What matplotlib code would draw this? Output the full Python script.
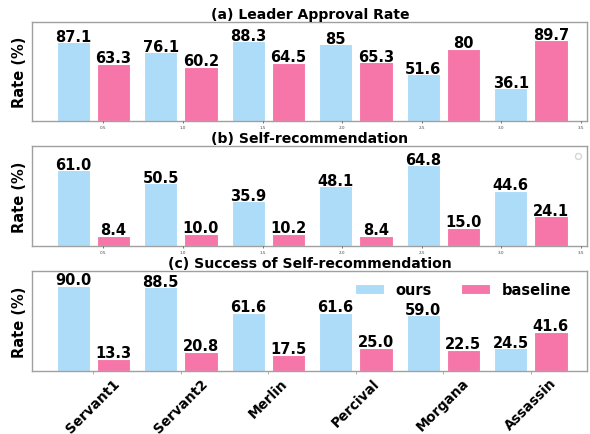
import numpy as np
import matplotlib
matplotlib.use('Agg')
import matplotlib.pyplot as plt

roles = ['Servant1', 'Servant2', 'Merlin', 'Percival', 'Morgana', 'Assassin']

approval_ours = [87.1, 76.1, 88.3, 85, 51.6, 36.1]
approval_base = [63.3, 60.2, 64.5, 65.3, 80, 89.7]
approval_ours_txt = ['87.1', '76.1', '88.3', '85', '51.6', '36.1']
approval_base_txt = ['63.3', '60.2', '64.5', '65.3', '80', '89.7']

selfrec_ours = [61.0, 50.5, 35.9, 48.1, 64.8, 44.6]
selfrec_base = [8.4, 10.0, 10.2, 8.4, 15.0, 24.1]

success_ours = [90.0, 88.5, 61.6, 61.6, 59.0, 24.5]
success_base = [13.3, 20.8, 17.5, 25.0, 22.5, 41.6]

titles = ['(a) Leader Approval Rate', '(b) Self-recommendation',
          '(c) Success of Self-recommendation']
ylims = [110, 80, 105]
tiny_ticks = [0.5, 1.0, 1.5, 2.0, 2.5, 3.0, 3.5]

c_ours = '#ADDCF9'
c_base = '#F776A9'

fig = plt.figure(figsize=(5.9, 4.35), dpi=100)
boxes = [[0.0547, 0.7195, 0.941, 0.2283],
         [0.0547, 0.4315, 0.941, 0.2299],
         [0.0547, 0.1441, 0.941, 0.2299]]

panels = [(approval_ours, approval_base, approval_ours_txt, approval_base_txt),
          (selfrec_ours, selfrec_base, None, None),
          (success_ours, success_base, None, None)]

x = np.arange(len(roles))
w = 0.38
off = 0.23
fs = 10.5

for k, (ours, base, ot, bt) in enumerate(panels):
    ax = fig.add_axes(boxes[k])
    b1 = ax.bar(x - off, ours, w, color=c_ours, edgecolor='white', linewidth=0.8, label='ours')
    b2 = ax.bar(x + off, base, w, color=c_base, edgecolor='white', linewidth=0.8, label='baseline')
    if ot is None:
        ot = [f'{v:.1f}' for v in ours]
        bt = [f'{v:.1f}' for v in base]
    for rects, labs in ((b1, ot), (b2, bt)):
        for r, s in zip(rects, labs):
            ax.annotate(s, (r.get_x() + r.get_width() / 2, r.get_height()),
                        xytext=(0, 1), textcoords='offset points',
                        ha='center', va='baseline', fontsize=fs, fontweight='bold')
    ax.set_xlim(-0.697, 5.648)
    ax.set_ylim(0, ylims[k])
    ax.set_yticks([])
    ax.set_ylabel('Rate (%)', fontsize=fs, fontweight='bold', labelpad=4)
    ax.set_title(titles[k], fontsize=10.1, fontweight='bold', pad=3)
    for s in ax.spines.values():
        s.set_color('#a0a0a0')
        s.set_linewidth(1.0)
    if k < 2:
        ax.set_xticks([])
        tw = ax.twiny()
        tw.set_xlim(0.054, 3.54)
        tw.xaxis.set_ticks_position('bottom')
        tw.xaxis.set_label_position('bottom')
        tw.set_xticks(tiny_ticks)
        tw.tick_params(axis='x', labelsize=3, length=1.5, width=0.5, pad=1.5, colors='#444444')
        for s in tw.spines.values():
            s.set_visible(False)
        if k == 1:
            tw.legend(handles=[], loc='upper right', borderpad=0.2)
    else:
        ax.set_xticks(x)
        ax.set_xticklabels(roles, rotation=45, ha='center',
                           fontsize=9.8, fontweight='bold')
        ax.tick_params(axis='x', length=2, width=0.6, color='#a0a0a0', pad=1)
        ax.legend(loc='upper right', ncol=2, frameon=False,
                  prop={'weight': 'bold', 'size': fs},
                  handlelength=2.0, handleheight=0.7, handletextpad=0.8,
                  columnspacing=2.0, bbox_to_anchor=(0.995, 1.02))

fig.savefig('out.png', dpi=100)
